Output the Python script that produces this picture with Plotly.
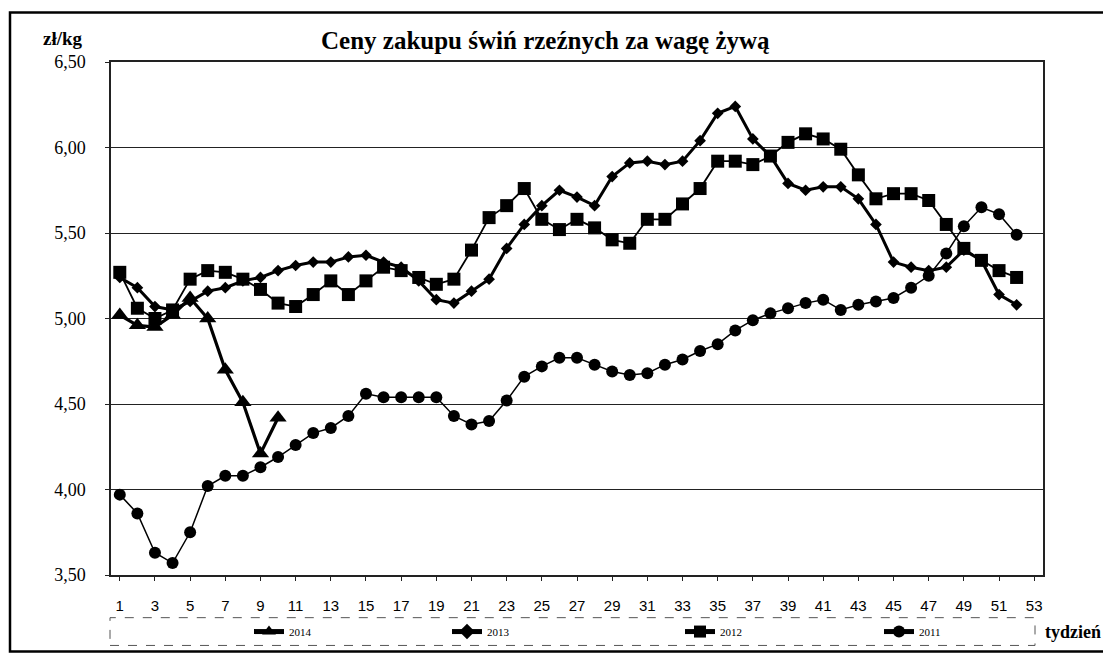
import plotly.graph_objects as go

weeks = list(range(1, 53))

price_2014 = [5.02, 4.96, 4.95, 5.02, 5.12, 5.00, 4.70, 4.51, 4.21, 4.42]

price_2013 = [5.24, 5.18, 5.07, 5.05, 5.10, 5.16, 5.18, 5.22, 5.24, 5.28,
              5.31, 5.33, 5.33, 5.36, 5.37, 5.33, 5.30, 5.22, 5.11, 5.09,
              5.16, 5.23, 5.41, 5.55, 5.66, 5.75, 5.71, 5.66, 5.83, 5.91,
              5.92, 5.90, 5.92, 6.04, 6.20, 6.24, 6.05, 5.95, 5.79, 5.75,
              5.77, 5.77, 5.70, 5.55, 5.33, 5.30, 5.28, 5.30, 5.40, 5.34,
              5.14, 5.08]

price_2012 = [5.27, 5.06, 5.00, 5.05, 5.23, 5.28, 5.27, 5.23, 5.17, 5.09,
              5.07, 5.14, 5.22, 5.14, 5.22, 5.30, 5.28, 5.24, 5.20, 5.23,
              5.40, 5.59, 5.66, 5.76, 5.58, 5.52, 5.58, 5.53, 5.46, 5.44,
              5.58, 5.58, 5.67, 5.76, 5.92, 5.92, 5.90, 5.95, 6.03, 6.08,
              6.05, 5.99, 5.84, 5.70, 5.73, 5.73, 5.69, 5.55, 5.41, 5.34,
              5.28, 5.24]

price_2011 = [3.97, 3.86, 3.63, 3.57, 3.75, 4.02, 4.08, 4.08, 4.13, 4.19,
              4.26, 4.33, 4.36, 4.43, 4.56, 4.54, 4.54, 4.54, 4.54, 4.43,
              4.38, 4.40, 4.52, 4.66, 4.72, 4.77, 4.77, 4.73, 4.69, 4.67,
              4.68, 4.73, 4.76, 4.81, 4.85, 4.93, 4.99, 5.03, 5.06, 5.09,
              5.11, 5.05, 5.08, 5.10, 5.12, 5.18, 5.25, 5.38, 5.54, 5.65,
              5.61, 5.49]

y_ticks = [3.5, 4.0, 4.5, 5.0, 5.5, 6.0, 6.5]
y_tick_text = ["3,50", "4,00", "4,50", "5,00", "5,50", "6,00", "6,50"]
x_ticks = list(range(1, 54, 2))

# the page body adds an 8 px margin; lay the figure out in screen coordinates
OFF = 8
W, H = 1111 - OFF, 658 - OFF
L, R, T, B = 111 - OFF, 1043 - OFF, 62 - OFF, 579 - OFF
pw, ph = R - L, B - T

SERIF = "Liberation Serif, Times New Roman, serif"
SANS = "Liberation Sans, Arial, sans-serif"


def px(x):
    return (x - OFF - L) / pw


def py(y):
    return (B - (y - OFF)) / ph


fig = go.Figure()

fig.add_trace(go.Scatter(
    x=weeks, y=price_2011, name="2011", mode="lines+markers",
    line=dict(color="black", width=1.5),
    marker=dict(symbol="circle", size=12, color="black"),
    legend="legend4"))
fig.add_trace(go.Scatter(
    x=weeks, y=price_2012, name="2012", mode="lines+markers",
    line=dict(color="black", width=1.8),
    marker=dict(symbol="square", size=13, color="black"),
    legend="legend3"))
fig.add_trace(go.Scatter(
    x=weeks, y=price_2013, name="2013", mode="lines+markers",
    line=dict(color="black", width=3),
    marker=dict(symbol="diamond", size=9, color="black"),
    legend="legend2"))
fig.add_trace(go.Scatter(
    x=weeks[:len(price_2014)], y=price_2014, name="2014", mode="lines+markers",
    line=dict(color="black", width=3.2),
    marker=dict(symbol="triangle-up", size=15, color="black"),
    legend="legend"))

legend_font = dict(family=SERIF, size=11, color="black")
leg_y = py(636)
centers = {"legend": 273, "legend2": 471, "legend3": 704, "legend4": 903}
leg_common = dict(orientation="h", yanchor="middle", xanchor="left",
                  bgcolor="rgba(0,0,0,0)", font=legend_font,
                  itemsizing="constant", itemwidth=30)
layout_legends = {k: dict(x=px(c - 24), y=leg_y, **leg_common) for k, c in centers.items()}

fig.update_layout(
    width=W, height=H,
    paper_bgcolor="white", plot_bgcolor="white",
    margin=dict(l=L, r=W - R, t=T, b=H - B),
    showlegend=True,
    **layout_legends,
    xaxis=dict(
        range=[0.5, 53.5], tickvals=x_ticks, ticktext=[str(v) for v in x_ticks],
        showgrid=False, zeroline=False,
        showline=True, linecolor="#222", linewidth=1.5, mirror=True,
        ticks="outside", ticklen=4, tickcolor="#222",
        ticklabelstandoff=12,
        tickfont=dict(family=SANS, size=15, color="black"),
    ),
    yaxis=dict(
        range=[3.5, 6.5], tickvals=y_ticks, ticktext=y_tick_text,
        showgrid=True, gridcolor="#222", gridwidth=1, zeroline=False,
        showline=True, linecolor="#222", linewidth=1.5, mirror=True,
        ticks="outside", ticklen=4, tickcolor="#222",
        ticklabelstandoff=16,
        tickfont=dict(family=SERIF, size=18, color="black"),
    ),
    shapes=[
        dict(type="rect", xref="paper", yref="paper",
             x0=px(10), x1=px(1107), y0=py(656), y1=py(12),
             line=dict(color="black", width=2.5)),
        dict(type="rect", xref="paper", yref="paper",
             x0=px(110), x1=px(1035), y0=py(650), y1=py(622),
             line=dict(color="#555", width=1, dash="dash")),
    ],
    annotations=[
        dict(text="<b>Ceny zakupu świń rzeźnych za wagę żywą</b>",
             xref="paper", yref="paper", x=px(545), y=py(40),
             xanchor="center", yanchor="middle", showarrow=False,
             font=dict(family=SERIF, size=25, color="black")),
        dict(text="<b>zł/kg</b>", xref="paper", yref="paper",
             x=px(63), y=py(38), xanchor="center", yanchor="middle",
             showarrow=False,
             font=dict(family=SERIF, size=19, color="black")),
        dict(text="<b>tydzień</b>", xref="paper", yref="paper",
             x=px(1043), y=py(636), xanchor="left", yanchor="middle",
             showarrow=False,
             font=dict(family=SERIF, size=18, color="black")),
    ],
)

fig.write_html("out.html")
